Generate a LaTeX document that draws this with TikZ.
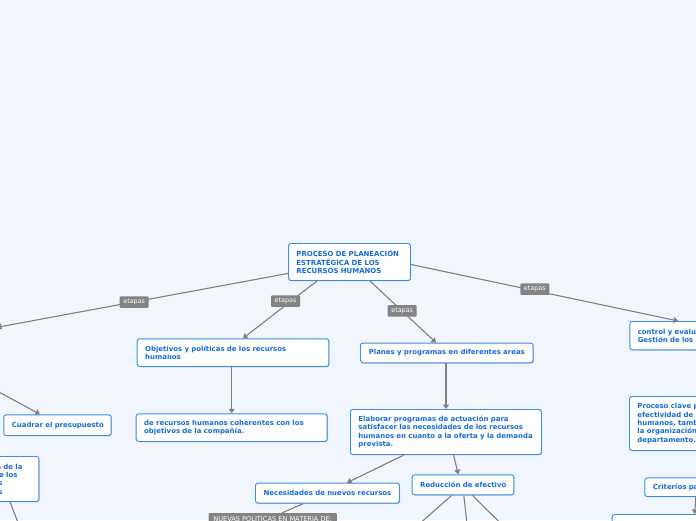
\documentclass[tikz,border=0pt]{standalone}
\usepackage{fontspec}
\setmainfont{DejaVu Sans}
\usetikzlibrary{calc,arrows.meta,shadows}
\definecolor{bgc}{RGB}{241,245,253}
\definecolor{boxblue}{RGB}{58,142,230}
\definecolor{txtblue}{RGB}{22,108,212}
\definecolor{conng}{RGB}{128,128,128}
\definecolor{lblg}{RGB}{132,132,132}
\tikzset{
  box/.style={draw=boxblue, fill=white, line width=0.95pt, rounded corners=2.5pt,
    text=txtblue, font=\fontsize{6.95}{8.4}\selectfont\bfseries,
    inner xsep=8pt, inner ysep=2pt,
    drop shadow={shadow xshift=0.7pt, shadow yshift=-0.8pt, opacity=0.18, fill=black}},
  boxl/.style={box, align=left},
  boxc/.style={box, align=center},
  conn/.style={draw=conng, line width=1.1pt, -{Triangle[length=4.5pt,width=6pt]}},
  plain/.style={draw=conng, line width=1.1pt},
  lbl/.style={fill=lblg, text=white, rounded corners=1pt, inner sep=1pt,
    font=\fontsize{6.4}{7}\selectfont, minimum width=29pt, minimum height=11.5pt}
}
\begin{document}
\begin{tikzpicture}[x=1pt,y=-1pt]
\useasboundingbox (0,0) rectangle (696,520);
\fill[bgc] (0,0) rectangle (696,520);
\begin{scope}
\clip (0,0) rectangle (696,520);
% nodes
\node[boxl, anchor=north west, text width=106pt, minimum height=37pt] (top) at (288,243)
  {\mbox{PROCESO DE PLANEACIÓN}\\\mbox{ESTRATÉGICA DE LOS}\\\mbox{RECURSOS HUMANOS}};
\node[boxl, anchor=north west, text width=175.6pt, minimum height=27.7pt] (obj) at (136.7,338.3)
  {\mbox{Objetivos y políticas de los recursos}\\humanos};
\node[boxl, anchor=north west, text width=175pt, minimum height=27.7pt] (der) at (135.7,413.3)
  {\mbox{de recursos humanos coherentes con los}\\\mbox{objetivos de la compañía.}};
\node[boxc, anchor=north west, text width=156.7pt, minimum height=19.6pt] (pla) at (360,342.7)
  {\mbox{Planes y programas en diferentes areas}};
\node[boxl, anchor=north west, text width=175pt, minimum height=45pt] (ela) at (350,409)
  {\mbox{Elaborar programas de actuación para}\\\mbox{satisfacer las necesidades de los recursos}\\\mbox{humanos en cuanto a la oferta y la demanda}\\prevista.};
\node[boxc, anchor=north west, text width=128pt, minimum height=20pt] (nec) at (255,482.7)
  {\mbox{Necesidades de nuevos recursos}};
\node[boxc, anchor=north west, text width=85.6pt, minimum height=20pt] (red) at (411.7,474.3)
  {\mbox{Reducción de efectivo}};
\node[boxc, anchor=north west, text width=91.4pt, minimum height=20.7pt] (cua) at (3.3,414.3)
  {\mbox{Cuadrar el presupuesto}};
\node[boxl, anchor=north west, text width=138pt, minimum height=28.3pt] (ctl) at (629.3,321)
  {\mbox{control y evaluación de la}\\\mbox{Gestión de los recursos humanos}};
\node[boxl, anchor=north west, text width=184pt, minimum height=54pt] (pro) at (629,396)
  {\mbox{Proceso clave para medir la}\\\mbox{efectividad de los recursos}\\\mbox{humanos, también dentro de}\\\mbox{la organización y del}\\departamento.};
\node[boxl, anchor=north west, text width=134pt, minimum height=18.7pt] (cri) at (644.3,477.3)
  {\mbox{Criterios para evaluar}};
\node[box, anchor=north west, minimum width=170pt, minimum height=30pt] (bot) at (611.7,514) {};
\node[box, anchor=north east, minimum width=172pt, minimum height=36pt] (lft) at (-3,322) {};
\node[boxl, anchor=north east, text width=59pt, minimum height=45pt] (bl) at (39.3,456)
  {\makebox[50.7pt][r]{Previsión de la}\\\makebox[45.7pt][r]{demanda de los}\\\makebox[30.7pt][r]{recursos}\\\makebox[30.7pt][r]{humanos}};
\node[lbl, anchor=north west, minimum width=128.4pt, minimum height=12pt] (nue) at (208.3,513)
  {\fontsize{6.6}{7}\selectfont NUEVAS POLITICAS EN MATERIA DE:};
% free ends below the picture
\coordinate (c1) at (401,540);
\coordinate (c2) at (468.8,540);
\coordinate (c3) at (517.5,540);
\coordinate (c4) at (24.8,540);
% connectors
\draw[conn] ($(top.south west)+(0,-7.5)$) -- ($(lft.north east)+(0,5.3)$);
\draw[conn] ($(lft.south east)+(-58.8,0)$) -- ($(cua.north west)+(36.7,0)$);
\draw[conn] ($(top.south west)+(29,0)$) -- ($(obj.north west)+(106.3,0)$);
\draw[conn] ($(top.south west)+(82,0)$) -- ($(pla.north west)+(76,0)$);
\draw[conn] ($(top.east)+(0,2.5)$) -- ($(ctl.north west)+(49,0)$);
\draw[conn] ($(obj.south west)+(95,0)$) -- ($(der.north west)+(96,0)$);
\draw[conn] ($(pla.south west)+(86,0)$) -- ($(ela.north west)+(96,0)$);
\draw[conn] ($(ela.south west)+(54,0)$) -- ($(nec.north west)+(92,0)$);
\draw[conn] ($(ela.south west)+(103.5,0)$) -- ($(red.north west)+(46.6,0)$);
\draw[conn] ($(red.south west)+(40.2,0)$) -- (c1);
\draw[conn] ($(red.south west)+(52.1,0)$) -- (c2);
\draw[conn] ($(red.south west)+(60.6,0)$) -- (c3);
\draw[plain] ($(nec.south west)+(48.3,0)$) -- ($(nue.north west)+(73.4,0)$);
\draw[conn] ($(bl.south east)+(-29.3,0)$) -- (c4);
\draw[conn] ($(cri.south west)+(51.5,0)$) -- ($(bot.north west)+(83,0)$);
% labels
\node[lbl] (l1) at (134.2,302) {etapas};
\node[lbl] (l2) at (285.5,301) {etapas};
\node[lbl] (l3) at (402.2,310.8) {etapas};
\node[lbl] (l4) at (534.8,289.2) {etapas};
\end{scope}
\end{tikzpicture}
\end{document}
